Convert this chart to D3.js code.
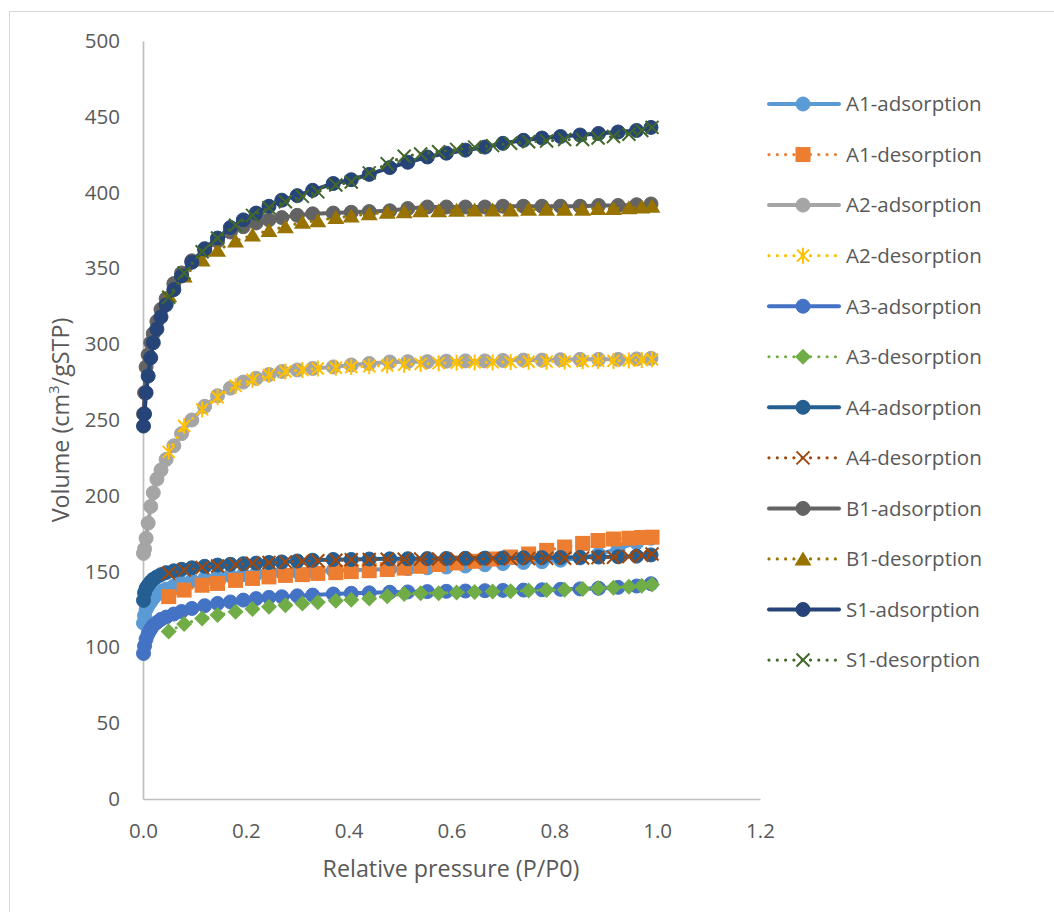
<!DOCTYPE html>
<html>
<head>
<meta charset="utf-8">
<script src="https://cdn.jsdelivr.net/npm/d3@7"></script>
<style>
  html, body { margin: 0; padding: 0; background: #ffffff; }
  svg text { font-family: "Open Sans", "Noto Sans", sans-serif; fill: #595959; }
</style>
</head>
<body>
<svg id="chart" width="1054" height="912"></svg>
<script>
// Relative pressure grids (P/P0) for the adsorption and desorption branches
const pAds = [0.001, 0.003, 0.006, 0.01, 0.015, 0.02, 0.027, 0.035, 0.045, 0.06, 0.075, 0.095,
  0.12, 0.145, 0.17, 0.195, 0.22, 0.245, 0.27, 0.3, 0.33, 0.37, 0.405, 0.44, 0.48, 0.515,
  0.553, 0.59, 0.627, 0.665, 0.70, 0.74, 0.776, 0.812, 0.85, 0.886, 0.924, 0.96, 0.988];
const pDes = [0.05, 0.08, 0.115, 0.145, 0.18, 0.213, 0.245, 0.277, 0.31, 0.34, 0.375, 0.405,
  0.44, 0.475, 0.508, 0.54, 0.575, 0.61, 0.645, 0.68, 0.715, 0.75, 0.785, 0.82, 0.855,
  0.885, 0.915, 0.945, 0.97, 0.99];

// Adsorbed volume (cm3/gSTP)
const a1Ads = [116, 121, 125, 127.5, 130, 132.5, 135, 137, 138.5, 140.5, 142.5, 144,
  145.5, 146.5, 147.3, 148, 148.5, 149, 149.5, 150, 150.3, 150.7, 151, 151.3, 151.7, 152,
  152.5, 153, 153.7, 154.5, 155.3, 156, 156.5, 157.5, 159, 161.5, 165, 169, 172];
const a1Des = [133.5, 137.8, 141, 142.2, 144.2, 145.5, 146.5, 147.5, 148, 148.8, 149.3, 150,
  150.6, 151.4, 152.3, 153.5, 154.7, 155.7, 156.8, 158.3, 159.6, 161.6, 164, 166.2, 168.6,
  170.5, 171.5, 172, 172.5, 172.7];
const a2Ads = [162, 165, 172, 182, 193, 202, 211, 217, 224, 233, 241, 250,
  259, 266, 271, 275, 277.5, 280, 282, 283, 284, 285, 286.3, 287.3, 288.3, 288.5,
  288.5, 288.8, 289, 289, 289.3, 289.5, 289.5, 289.8, 290, 290, 290, 290.3, 290.7];
const a2Des = [229, 246, 257, 265, 272.5, 276.5, 279.7, 282, 283, 284, 284.5, 285,
  285.5, 286, 286.5, 287, 287.5, 287.8, 288, 288, 288.2, 288.4, 288.5, 288.6, 288.8,
  289, 289, 289.3, 289.6, 290];
const a3Ads = [96, 101, 105.5, 109, 112, 114.5, 116.5, 118.5, 120, 122, 123.7, 125.7,
  127.5, 129, 130, 131.2, 132.2, 133, 133.4, 134, 134.5, 135.2, 135.7, 136, 136.4, 136.6,
  136.8, 137, 137.2, 137.4, 137.6, 137.8, 138, 138.3, 138.6, 139, 139.6, 140.5, 142];
const a3Des = [110.5, 115.5, 119, 121.4, 123.5, 125.3, 126.8, 127.8, 129, 129.8, 130.7, 131.4,
  132.3, 133.8, 135.2, 135.7, 135.8, 136.2, 136.6, 136.8, 137, 137.5, 137.9, 138, 138.5,
  139, 139.3, 140, 140.6, 141.5];
const a4Ads = [131, 136, 139, 141, 143.3, 145, 146.5, 148, 149.3, 150.5, 151.5, 152.5,
  153.5, 154.3, 154.8, 155.2, 155.6, 156, 156.4, 157, 157.5, 158, 158, 158.3, 158.4, 158.5,
  158.6, 158.7, 158.8, 158.9, 159, 159.1, 159.2, 159.3, 159.4, 159.6, 159.8, 160.2, 161];
const a4Des = [148.9, 151, 152.7, 153.7, 154.6, 155.5, 156, 156.4, 156.8, 157.2, 157.5, 157.8,
  158, 158.1, 158.2, 158.3, 158.3, 158.4, 158.4, 158.5, 158.5, 158.6, 158.7, 158.8, 159,
  159.2, 159.5, 160, 160.7, 161.6];
const b1Ads = [254, 268, 285, 293, 301, 307, 315, 323, 330, 340, 347, 355,
  362, 368, 374, 377.5, 380, 382, 383.5, 385, 386, 386.5, 387, 387.5, 388, 389.5,
  390.5, 390.5, 390.5, 390.5, 391, 391, 391, 391, 391, 391.5, 391.5, 392, 392.5];
const b1Des = [332, 345, 355.5, 362, 368, 372, 375, 377.5, 380.5, 381.5, 383.5, 384.5,
  386, 387, 387.3, 388, 388, 388.3, 388.5, 388.5, 388.5, 389, 389, 389, 389,
  389.5, 389.5, 390, 390.5, 391];
const s1Ads = [246, 254, 268, 279, 291, 301, 310, 318, 326, 336, 345, 354,
  363, 370, 377, 382, 386.5, 391, 395, 398, 401.5, 406, 408.5, 412, 416.5, 420,
  423.5, 426, 428, 430, 432.5, 434.5, 436, 437, 438, 439, 440, 441, 443];
const s1Des = [331, 347, 361, 370, 378.5, 385, 390, 394, 397.5, 400.5, 405, 407,
  413, 419, 424, 425.5, 427, 428.5, 430, 431, 432.5, 433.5, 434, 435, 435,
  436, 437, 438.5, 441, 443];

const seriesNames = ["A1-adsorption", "A1-desorption", "A2-adsorption", "A2-desorption",
  "A3-adsorption", "A3-desorption", "A4-adsorption", "A4-desorption",
  "B1-adsorption", "B1-desorption", "S1-adsorption", "S1-desorption"];

const xTicks = [0, 0.2, 0.4, 0.6, 0.8, 1.0, 1.2];
const yTicks = [0, 50, 100, 150, 200, 250, 300, 350, 400, 450, 500];

// Drawing styles, one per series in the order above
const styles = [
  { color: "#5B9BD5", dotted: false, marker: "circle" },
  { color: "#ED7D31", dotted: true,  marker: "square" },
  { color: "#A5A5A5", dotted: false, marker: "circle" },
  { color: "#FFC000", dotted: true,  marker: "star" },
  { color: "#4472C4", dotted: false, marker: "circle" },
  { color: "#70AD47", dotted: true,  marker: "diamond" },
  { color: "#255E91", dotted: false, marker: "circle" },
  { color: "#9E480E", dotted: true,  marker: "x" },
  { color: "#636363", dotted: false, marker: "circle" },
  { color: "#997300", dotted: true,  marker: "triangle" },
  { color: "#264478", dotted: false, marker: "circle" },
  { color: "#43682B", dotted: true,  marker: "x" }
];

const yValues = [a1Ads, a1Des, a2Ads, a2Des, a3Ads, a3Des, a4Ads, a4Des, b1Ads, b1Des, s1Ads, s1Des];
const series = seriesNames.map((name, i) => ({
  name,
  points: (i % 2 === 0 ? pAds : pDes).map((p, j) => ({ p, v: yValues[i][j] })),
  ...styles[i]
}));

const svg = d3.select("#chart");

// Chart area outline
svg.append("rect")
  .attr("x", 9.5).attr("y", 11.5)
  .attr("width", 1060).attr("height", 920)
  .attr("fill", "none").attr("stroke", "#D9D9D9").attr("stroke-width", 1);

const x = d3.scaleLinear().domain([0, 1.2]).range([143, 760]);
const y = d3.scaleLinear().domain([0, 500]).range([799, 41]);

const axisColor = "#BFBFBF";

const gx = svg.append("g").attr("transform", "translate(0,799)")
  .call(d3.axisBottom(x).tickValues(xTicks).tickFormat(d3.format(".1f"))
    .tickSizeInner(0).tickSizeOuter(0).tickPadding(24));
const gy = svg.append("g").attr("transform", "translate(143,0)")
  .call(d3.axisLeft(y).tickValues(yTicks)
    .tickSizeInner(0).tickSizeOuter(0).tickPadding(23));
[gx, gy].forEach(g => {
  g.select(".domain").attr("stroke", axisColor).attr("stroke-width", 1.7);
  g.selectAll(".tick line").remove();
  g.selectAll(".tick text").attr("font-size", 20.5).attr("fill", "#595959")
    .style("font-family", "'Open Sans', sans-serif");
});

// Axis titles
svg.append("text")
  .attr("x", 451).attr("y", 877)
  .attr("text-anchor", "middle").attr("font-size", 23.3)
  .text("Relative pressure (P/P0)");

const yTitle = svg.append("text")
  .attr("transform", "translate(69,420) rotate(-90)")
  .attr("text-anchor", "middle").attr("font-size", 23.3);
yTitle.append("tspan").text("Volume (cm");
yTitle.append("tspan").attr("baseline-shift", "super").attr("font-size", 15).text("3");
yTitle.append("tspan").text("/gSTP)");

// Marker shapes
function drawMarker(g, type, color) {
  switch (type) {
    case "circle":
      g.append("circle").attr("r", 7).attr("fill", color)
        .attr("stroke", color).attr("stroke-width", 1);
      break;
    case "square":
      g.append("rect").attr("x", -7.5).attr("y", -7.5).attr("width", 15).attr("height", 15)
        .attr("fill", color);
      break;
    case "diamond":
      g.append("path").attr("d", "M0,-8L8,0L0,8L-8,0Z").attr("fill", color);
      break;
    case "triangle":
      g.append("path").attr("d", "M0,-7.5L8.5,6.5L-8.5,6.5Z").attr("fill", color);
      break;
    case "x":
      g.append("path").attr("d", "M-6.5,-6.5L6.5,6.5M-6.5,6.5L6.5,-6.5")
        .attr("stroke", color).attr("stroke-width", 2).attr("fill", "none");
      break;
    case "star":
      g.append("path").attr("d", "M-6,-6L6,6M-6,6L6,-6M0,-8L0,8")
        .attr("stroke", color).attr("stroke-width", 2).attr("fill", "none");
      break;
  }
}

const line = d3.line().x(d => x(d.p)).y(d => y(d.v));

function styleLine(sel, s) {
  sel.attr("fill", "none").attr("stroke", s.color);
  if (s.dotted) {
    sel.attr("stroke-width", 3.2).attr("stroke-dasharray", "0 8.3").attr("stroke-linecap", "round");
  } else {
    sel.attr("stroke-width", 4).attr("stroke-linecap", "round").attr("stroke-linejoin", "round");
  }
}

// Series: line first, then its markers
const plot = svg.append("g");
series.forEach(s => {
  const g = plot.append("g");
  g.append("path").datum(s.points).attr("d", line).call(styleLine, s);
  g.selectAll("g.pt").data(s.points).enter().append("g")
    .attr("class", "pt")
    .attr("transform", d => `translate(${x(d.p)},${y(d.v)})`)
    .each(function () { drawMarker(d3.select(this), s.marker, s.color); });
});

// Legend
const legend = svg.append("g");
series.forEach((s, i) => {
  const ly = 104 + i * 50.55;
  const row = legend.append("g").attr("transform", `translate(0,${ly})`);
  row.append("line").attr("x1", 769).attr("x2", 839).attr("y1", 0).attr("y2", 0).call(styleLine, s);
  const m = row.append("g").attr("transform", "translate(803,0)");
  drawMarker(m, s.marker, s.color);
  row.append("text").attr("x", 846).attr("y", 0).attr("dy", "0.36em")
    .attr("font-size", 20.5).text(s.name);
});
</script>
</body>
</html>
